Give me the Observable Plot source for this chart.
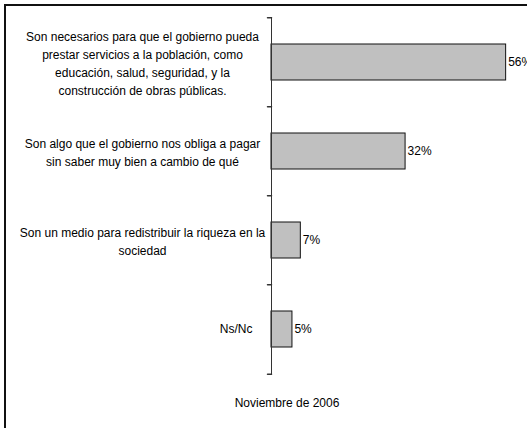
<!DOCTYPE html>
<html>
<head>
<meta charset="utf-8">
<script src="https://cdn.jsdelivr.net/npm/d3@7"></script>
<script src="https://cdn.jsdelivr.net/npm/@observablehq/plot@0.6"></script>
<style>
  html, body { margin: 0; padding: 0; background: #fff; overflow: hidden; }
  body { width: 527px; height: 428px; position: relative; font-family: "Liberation Sans", Arial, sans-serif; }
  #chart { position: absolute; left: 0; top: 0; }
  #frame { position: absolute; left: 4px; top: 4px; width: 620px; height: 520px; border: 2px solid #111; box-sizing: border-box; pointer-events: none; }
  #caption { position: absolute; left: 0; top: 396px; width: 574px; text-align: center; font-size: 12px; line-height: 14px; color: #000; }
</style>
</head>
<body>
<div id="chart"></div>
<div id="frame"></div>
<div id="caption">Noviembre de 2006</div>
<script>
const categories = ["necesarios", "obliga", "redistribuir", "nsnc"];
const labels = [
  "Son necesarios para que el gobierno pueda\nprestar servicios a la población, como\neducación, salud, seguridad, y la\nconstrucción de obras públicas.",
  "Son algo que el gobierno nos obliga a pagar\nsin saber muy bien a cambio de qué",
  "Son un medio para redistribuir la riqueza en la\nsociedad",
  "Ns/Nc"
];
const values = [56, 32, 7, 5];

const data = categories.map((c, i) => ({cat: c, label: labels[i], value: values[i]}));

const W = 527, H = 428, mt = 17, mb = 53.4, ml = 271, mr = 4.6;
const step = (H - mt - mb) / categories.length;

const lineShape = {draw(ctx, l) { ctx.moveTo(0, 0); ctx.lineTo(0, -l); }};

const plot = Plot.plot({
  width: W, height: H,
  marginTop: mt, marginBottom: mb, marginLeft: ml, marginRight: mr,
  style: {fontFamily: "'Liberation Sans', Arial, sans-serif", fontSize: "12px", background: "transparent", color: "#000", overflow: "visible"},
  x: {domain: [0, 60], axis: null},
  y: {domain: categories, paddingInner: 0.597, paddingOuter: 0.2985, axis: null},
  marks: [
    Plot.barX(data, {x: "value", y: "cat", fill: "#c0c0c0", stroke: "#111", strokeWidth: 1}),
    Plot.ruleX([0], {stroke: "#333", strokeWidth: 1}),
    Plot.vector(data, {x: 0, y: "cat", length: 4, rotate: -90, anchor: "start", shape: lineShape, stroke: "#333", dy: -step / 2}),
    Plot.vector(data.slice(-1), {x: 0, y: "cat", length: 4, rotate: -90, anchor: "start", shape: lineShape, stroke: "#333", dy: step / 2}),
    Plot.text(data.filter(d => d.cat !== "nsnc"), {y: "cat", text: "label", frameAnchor: "left", textAnchor: "middle", dx: -129, lineHeight: 1.5, fill: "#000"}),
    Plot.text(data.filter(d => d.cat === "nsnc"), {y: "cat", text: "label", frameAnchor: "left", textAnchor: "end", dx: -19, fill: "#000"}),
    Plot.text(data, {x: "value", y: "cat", text: d => d.value + "%", textAnchor: "start", dx: 2, fill: "#000"})
  ]
});
document.getElementById("chart").appendChild(plot);
</script>
</body>
</html>
